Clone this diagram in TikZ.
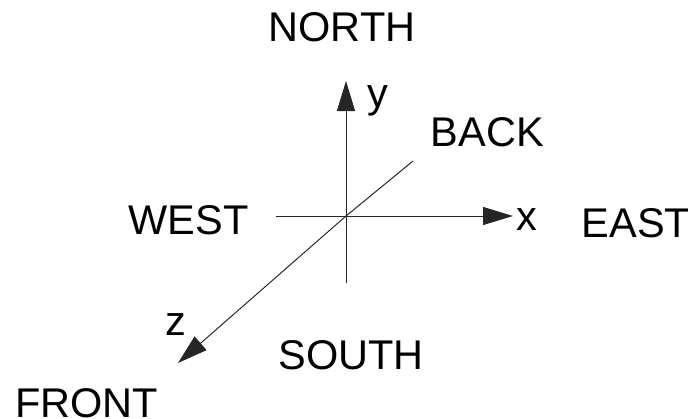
\documentclass[tikz,border=0pt]{standalone}
\usepackage{fontspec}
\setmainfont{Liberation Sans}
\usetikzlibrary{arrows.meta}
\begin{document}
\begin{tikzpicture}[x=1pt,y=-1pt,
  lbl/.style={font=\fontsize{41.5}{41.5}\selectfont, inner sep=0pt, outer sep=0pt, anchor=base},
  axis/.style={line width=1pt, draw=black!85},
  tip/.style={-{Triangle[length=30pt,width=18pt]}}]
\useasboundingbox (0,0) rectangle (688,418);
\coordinate (O) at (346,216);
\coordinate (ytop) at (346,81);
\coordinate (ybot) at (346,283);
\coordinate (xleft) at (276,216);
\coordinate (xtip) at (513,216);
\coordinate (zback) at (413,161);
\coordinate (ztip) at (178,363);
\draw[axis] (ybot) -- (O);
\draw[axis,tip] (O) -- (ytop);
\draw[axis] (xleft) -- (O);
\draw[axis,tip] (O) -- (xtip);
\draw[axis] (zback) -- (O);
\draw[axis,tip] (O) -- (ztip);
\node[lbl] (north) at (342,41) {NORTH};
\node[lbl] (back) at (487.5,146) {BACK};
\node[lbl] (west) at (188.5,234) {WEST};
\node[lbl] (east) at (636,237) {EAST};
\node[lbl] (south) at (351,369) {SOUTH};
\node[lbl] (front) at (86.5,417) {FRONT};
\node[lbl] (ylab) at (378,107) {y};
\node[lbl] (xlab) at (527,230) {x};
\node[lbl] (zlab) at (175.5,335) {z};
\end{tikzpicture}
\end{document}
